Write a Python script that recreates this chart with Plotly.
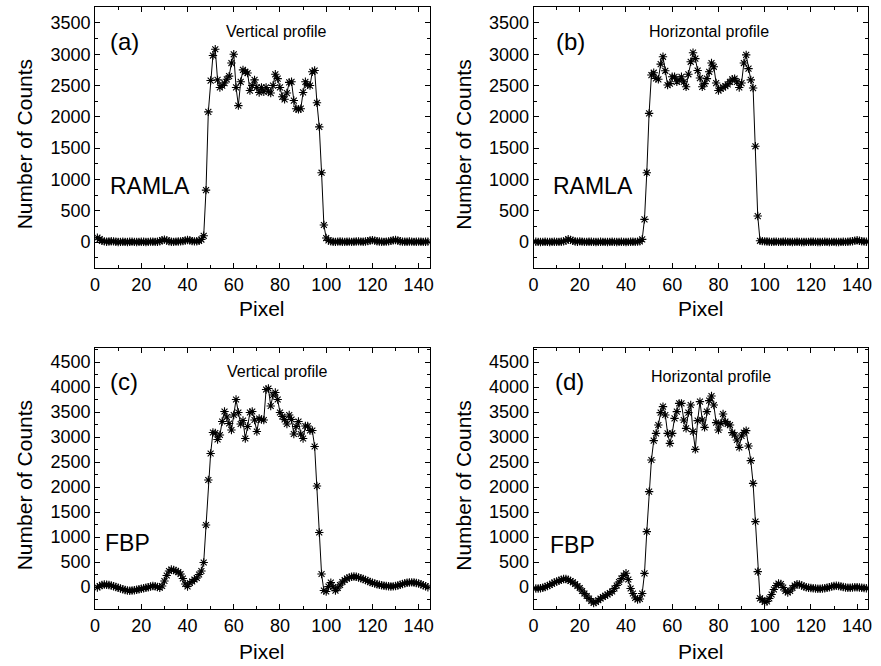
import plotly.graph_objects as go

W, H = 881, 666

# ---------------- data (pixel index 1..144) ----------------
ramla_vertical = [
    70, 45, 20, 10, 5, 8, 12, 10, 5, 0, 3, 5, 2, 0, 4, 6, 3, 0, 2, 5, 4, 0, 3, 6, 5, 3, 5, 12, 30, 38,
    25, 10, 5, 3, 6, 8, 10, 15, 25, 32, 28, 15, 10, 12, 20, 40,
    100, 830, 2080, 2580, 2980, 3080, 2590, 2470, 2500, 2540, 2600, 2650, 2860, 3000, 2470, 2180,
    2560, 2750, 2720, 2700, 2420, 2500, 2590, 2470, 2390, 2470, 2400, 2470, 2410, 2380, 2500, 2680,
    2610, 2470, 2320, 2280, 2380, 2550, 2560, 2260, 2130, 2120, 2130, 2390, 2560, 2510, 2500, 2720,
    2740, 2225, 1840, 1107, 272, 64,
    25, 10, 5, 3, 6, 8, 5, 2, 4, 6, 3, 5, 8, 10, 6, 4, 8, 15, 25, 30, 22, 12, 8, 5, 3, 6, 10, 18, 28,
    32, 25, 12, 6, 4, 5, 8, 6, 3, 5, 7, 4, 3, 5, 6,
]
ramla_horizontal = [
    5, 3, 0, 2, 4, 3, 0, 2, 5, 3, 2, 5, 10, 22, 45, 35, 18, 8, 5, 10, 6, 3, 2, 4, 5, 3, 0, 2, 4, 3,
    2, 0, 3, 5, 2, 0, 2, 4, 3, 1, 2, 4, 5, 3, 6, 10,
    43, 362, 1107, 2056, 2668, 2705, 2615, 2600, 2843, 2960, 2736, 2508, 2530, 2640, 2640, 2560,
    2590, 2640, 2560, 2480, 2680, 2880, 3025, 2930, 2740, 2620, 2480, 2530, 2610, 2720, 2860, 2800,
    2540, 2420, 2450, 2470, 2490, 2520, 2560, 2600, 2610, 2560, 2470, 2540, 2860, 2990, 2770, 2590,
    2460, 1530, 415, 20,
    15, 10, 8, 5, 3, 4, 6, 3, 2, 4, 5, 3, 2, 0, 2, 4, 3, 1, 0, 2, 3, 5, 4, 2, 0, 1, 3, 4, 2, 0,
    2, 3, 1, 0, 2, 4, 3, 5, 8, 12, 22, 28, 20, 12, 8, 5,
]
fbp_vertical = [
    -10, 20, 40, 50, 45, 40, 30, 15, 0, -15, -30, -45, -60, -70, -75, -70, -65, -55, -45, -35,
    -25, -15, -5, 10, 20, 15, 0, -15, 20, 120, 230, 320, 350, 340, 320, 300, 260, 170, 60, 10,
    80, 110, 150, 180, 250, 320,
    490, 1240, 2140, 2670, 3090, 3080, 2950, 3040, 3310, 3510, 3400, 3270, 3140, 3440, 3750, 3490,
    3260, 3330, 2970, 3210, 3490, 3510, 3340, 3110, 3370, 3350, 3340, 3950, 3970, 3620, 3840, 3890,
    3750, 3490, 3410, 3350, 3260, 3440, 3350, 3060, 3210, 3310, 3060, 2970, 3220, 3220, 3130, 3130,
    2810, 2020, 1090, 260, -70,
    -90, 10, 87, 0, -73, -20, 40, 100, 140, 170, 190, 205, 210, 205, 190, 175, 160, 140, 120, 100,
    85, 70, 55, 45, 35, 25, 20, 15, 10, 12, 20, 30, 45, 60, 75, 85, 90, 92, 90, 80, 70, 55, 35, 15, -5,
]
fbp_horizontal = [
    -30, -30, -25, -15, 0, 20, 40, 65, 90, 110, 125, 145, 160, 160, 145, 120, 95, 60, 20, -20,
    -80, -130, -180, -230, -280, -320, -300, -265, -230, -200, -175, -150, -120, -90, -30, 30,
    100, 170, 230, 275, 150, -30, -130, -220, -250, -240, -130,
    273, 1107, 1907, 2540, 2927, 3073, 3240, 3487, 3607, 3440, 3073, 2873, 3073, 3373, 3507, 3673,
    3673, 3340, 3173, 3487, 3640, 3107, 2753, 3327, 3707, 3340, 3193, 3507, 3727, 3820, 3640, 3287,
    3140, 3273, 3460, 3307, 3260, 3240, 3087, 3040, 2940, 2793, 3020, 3087, 3127, 2820, 2527, 2073,
    1307, 307, -227,
    -260, -300, -290, -230, -150, -50, 30, 70, 60, -10, -80, -110, -80, -20, 30, 55, 50, 30, 10, -5,
    -15, -20, -25, -30, -35, -35, -30, -25, -15, -5, 10, 20, 25, 20, 10, 0, -10, -15, -15, -10,
    -5, -5, -10, -15, -20, -25,
]

panel_letters = ["(a)", "(b)", "(c)", "(d)"]
profile_names = ["Vertical profile", "Horizontal profile", "Vertical profile", "Horizontal profile"]
method_names = ["RAMLA", "RAMLA", "FBP", "FBP"]
series = [ramla_vertical, ramla_horizontal, fbp_vertical, fbp_horizontal]

# ---------------- layout geometry (pixels) ----------------
FONT = "Liberation Sans, Arial, sans-serif"
col_px = [(91, 429), (534, 872)]
row_px = [(7, 268), (348, 609)]
y_ranges = [[-415, 3755], [-440, 4780]]
x_range = [0, 144.75]
pixel_title_y = [308, 651]


def fx(p):
    return p / W


def fy(p):
    return 1 - p / H


def label(text, cx, cy, size, angle=0):
    return dict(text=text, x=fx(cx), y=fy(cy), xref="paper", yref="paper",
                xanchor="center", yanchor="middle", showarrow=False, textangle=angle,
                font=dict(family=FONT, size=size, color="black"))


fig = go.Figure()
layout = dict(
    width=W, height=H, margin=dict(l=0, r=0, t=0, b=0),
    paper_bgcolor="white", plot_bgcolor="white", showlegend=False,
    font=dict(family=FONT, color="black"),
)
annotations = []

letter_pos = [(121, 41), (571, 41), (120, 381), (570, 381)]
profile_pos = [(274, 31), (711, 31), (275, 372), (713, 377)]
method_pos = [(147, 186), (594, 186), (124, 543), (573, 545)]

for i in range(4):
    r, c = divmod(i, 2)
    n = i + 1
    xa = "x" if n == 1 else f"x{n}"
    ya = "y" if n == 1 else f"y{n}"
    ys = series[i]
    xs = list(range(1, len(ys) + 1))
    fig.add_trace(go.Scatter(
        x=xs, y=ys, mode="lines+markers", xaxis=xa, yaxis=ya,
        line=dict(color="black", width=1),
        marker=dict(symbol="asterisk-open", size=7, color="black",
                    line=dict(color="black", width=1.1)),
    ))
    x0, x1 = col_px[c]
    y0, y1 = row_px[r]
    common = dict(
        showline=True, linecolor="black", linewidth=1, mirror="allticks",
        ticks="inside", ticklen=5, tickwidth=1, tickcolor="black",
        showgrid=False, zeroline=False,
        tickfont=dict(family=FONT, size=18, color="black"),
    )
    layout["xaxis" if n == 1 else f"xaxis{n}"] = dict(
        common, domain=[fx(x0), fx(x1)], range=x_range, anchor=ya,
        tick0=0, dtick=20,
        minor=dict(ticks="inside", ticklen=3, dtick=10, tickcolor="black", showgrid=False),
    )
    layout["yaxis" if n == 1 else f"yaxis{n}"] = dict(
        common, domain=[fy(y1), fy(y0)], range=y_ranges[r], anchor=xa,
        tick0=0, dtick=500,
        minor=dict(ticks="inside", ticklen=3, dtick=250, tick0=0, tickcolor="black", showgrid=False),
    )
    annotations.append(label(panel_letters[i], *letter_pos[i], 24))
    annotations.append(label(profile_names[i], *profile_pos[i], 16))
    annotations.append(label(method_names[i], *method_pos[i], 23))
    annotations.append(label("Pixel", (x0 + x1) / 2, pixel_title_y[r], 21))
    annotations.append(label("Number of Counts", x0 - 71, (y0 + y1) / 2 + 7, 21, -90))

layout["annotations"] = annotations
fig.update_layout(**layout)
fig.write_html("out.html")
